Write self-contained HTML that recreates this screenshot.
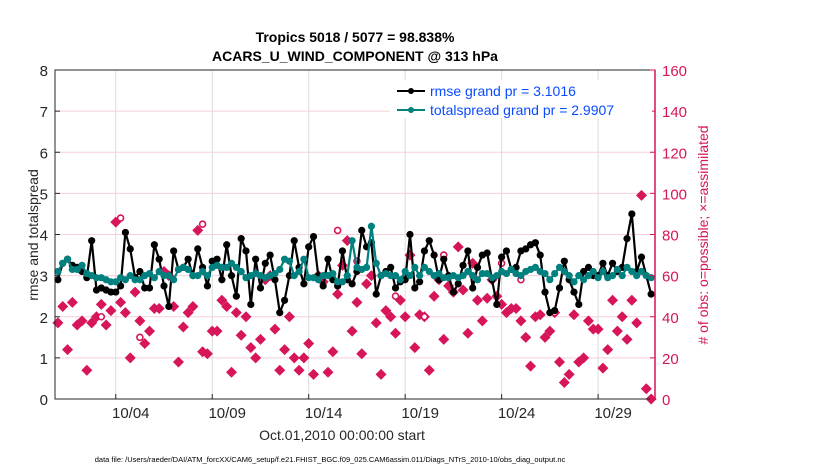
<!DOCTYPE html>
<html><head><meta charset="utf-8"><style>
body{margin:0;background:#fff;}
svg{display:block;font-family:"Liberation Sans",Arial,sans-serif;}
</style></head><body>
<svg id="chart" width="830" height="470" viewBox="0 0 830 470">
<rect width="830" height="470" fill="#fff"/>
<text x="355" y="42" text-anchor="middle" font-size="14" font-weight="bold">Tropics 5018 / 5077 = 98.838%</text>
<text x="355" y="61" text-anchor="middle" font-size="14" font-weight="bold">ACARS_U_WIND_COMPONENT @ 313 hPa</text>
<g id="grid"></g>
<g id="marks"></g>
<rect x="55" y="70" width="600" height="329" fill="none" stroke="#262626" stroke-width="1"/>
<line x1="655" y1="70" x2="655" y2="399" stroke="#d6155a" stroke-width="1.5"/>
<g id="axes"></g>
<text transform="translate(38,235) rotate(-90)" text-anchor="middle" font-size="14" fill="#262626">rmse and totalspread</text>
<text transform="translate(708,235) rotate(-90)" text-anchor="middle" font-size="14" fill="#d6155a"># of obs: o=possible; ×=assimilated</text>
<text x="342" y="440" text-anchor="middle" font-size="14" fill="#262626">Oct.01,2010 00:00:00 start</text>
<text x="330" y="462" text-anchor="middle" font-size="7.5" fill="#000">data file: /Users/raeder/DAI/ATM_forcXX/CAM6_setup/f.e21.FHIST_BGC.f09_025.CAM6assim.011/Diags_NTrS_2010-10/obs_diag_output.nc</text>
<g>
<rect x="390" y="80" width="262" height="38" fill="#fff"/>
<line x1="397" y1="91" x2="425" y2="91" stroke="#000" stroke-width="2"/>
<circle cx="411" cy="91" r="3" fill="#000"/>
<text x="430" y="96" font-size="14" fill="#0a4bff">rmse grand pr = 3.1016</text>
<line x1="397" y1="110" x2="425" y2="110" stroke="#00807f" stroke-width="2"/>
<circle cx="411" cy="110" r="3" fill="#00807f"/>
<text x="430" y="115" font-size="14" fill="#0a4bff">totalspread grand pr = 2.9907</text>
</g>
</svg>
<script>
const rmse=[2.9,3.3,3.4,3.25, 3.2,3.1,2.95,3.85, 2.65,2.7,2.65,2.6, 2.6,2.75,4.05,3.65, 2.95,3.1,2.7,2.7, 3.75,3.4,2.75,2.25, 3.6,3.15,3.2,3.4, 3.0,3.65,3.2,2.75, 3.35,3.4,2.9,3.75, 3.0,2.5,3.9,3.6, 2.3,3.4,2.7,3.3, 3.5,2.9,2.1,2.4, 3.0,3.85,3.2,2.8, 3.7,3.95,3.0,2.75, 3.4,2.9,2.75,3.6, 2.9,2.8,3.1,4.1, 3.7,3.8,2.55,3.0, 3.1,3.2,2.7,2.85, 2.9,4.0,2.7,2.85, 3.6,3.85,3.5,2.9, 3.4,3.0,2.6,2.8, 3.25,3.6,2.7,3.2, 3.5,3.55,2.9,2.3, 3.45,3.6,3.15,3.2, 3.6,3.65,3.75,3.8, 3.5,2.6,2.1,2.15, 2.7,3.35,2.9,2.6, 2.3,3.1,3.2,3.0, 3.0,3.3,3.0,3.3, 3.1,3.2,3.9,4.5, 3.1,3.45,3.0,2.55];
const spread=[3.1,3.3,3.4,3.15, 3.15,3.25,3.05,3.0, 2.95,2.95,2.9,2.85, 2.85,2.95,2.9,3.0, 2.9,2.9,3.0,3.05, 2.95,3.1,3.0,3.0, 2.9,3.15,3.2,3.15, 3.0,3.0,3.1,3.0, 3.2,3.25,3.2,3.2, 3.3,3.2,3.1,2.95, 3.0,3.05,3.0,2.95, 3.0,3.05,3.15,3.4, 3.35,3.0,3.1,3.4, 2.95,2.95,2.9,3.0, 3.0,3.05,2.85,2.85, 3.0,3.85,3.2,3.15, 3.2,4.2,3.3,3.0, 3.05,3.0,3.0,2.9, 3.1,3.0,3.2,3.0, 3.2,3.1,3.0,3.05, 2.95,2.95,3.0,2.95, 3.0,3.1,3.0,2.9, 3.05,3.05,2.95,3.0, 3.1,3.05,3.15,3.05, 3.0,3.1,3.15,3.2, 3.1,3.05,2.9,3.05, 3.2,3.1,3.0,2.85, 3.0,2.9,3.0,3.1, 2.95,3.1,2.95,3.0, 3.15,3.0,3.2,3.1, 3.0,3.1,3.0,2.95];
const nAssim=[37,45,24,47, 36,38,14,37, 40,46,36,43, 86,47,42,20, 52,38,27,33, 44,44,62,60, 45,18,35,42, 45,82,23,22, 33,33,48,45, 13,42,31,40, 25,20,29,58, 60,34,14,24, 40,20,14,20, 27,12,60,57, 13,23,51,65, 77,33,47,22, 56,60,37,12, 43,40,32,48, 40,70,25,41, 40,14,50,58, 29,55,52,74, 53,32,66,48, 38,49,58,50, 46,42,44,44, 38,30,16,40, 41,30,33,42, 18,8,12,41, 18,20,38,34, 34,15,24,48, 33,40,29,48, 37,99,5,0];
const possibleIdx=[9,13,17,30,58,62,70,76,80,92,96,103];
const possibleVals=[40,88,30,85,82,67,50,40,70,66,58,42];
const yTicks=[0,1,2,3,4,5,6,7,8];
const y2Ticks=[0,20,40,60,80,100,120,140,160];
const xTickDays=[3,8,13,18,23,28];
const xTickLabels=["10/04","10/09","10/14","10/19","10/24","10/29"];

const NS="http://www.w3.org/2000/svg";
const L=55,R=655,T=70,B=399;
const d0=-0.15,d1=30.95;
const xs=d=>L+(d-d0)/(d1-d0)*(R-L);
const ys=v=>B-v/8*(B-T);
const ys2=v=>B-v/160*(B-T);
const dayOf=i=>i*0.25;
function mk(tag,attrs,parent){const e=document.createElementNS(NS,tag);for(const k in attrs)e.setAttribute(k,attrs[k]);parent.appendChild(e);return e;}
const grid=document.getElementById('grid'),marks=document.getElementById('marks'),axes=document.getElementById('axes');

yTicks.forEach(v=>{
  if(v>0&&v<8){const g=mk('line',{x1:L,x2:R,y1:ys(v),y2:ys(v),stroke:'#f6cfdc','stroke-width':1},grid);
  
  }
  const t=mk('text',{x:L-7,y:ys(v)+6,'text-anchor':'end','font-size':15,fill:'#262626'},axes);t.textContent=v;
  
  
  mk('line',{x1:L,x2:L+5,y1:ys(v),y2:ys(v),stroke:'#262626'},axes);
});
y2Ticks.forEach(v=>{
  const t=mk('text',{x:R+7,y:ys2(v)+6,'font-size':15,fill:'#d6155a'},axes);t.textContent=v;
  
  
  mk('line',{x1:R-5,x2:R,y1:ys2(v),y2:ys2(v),stroke:'#d6155a'},axes);
});
xTickDays.forEach((d,i)=>{
  const g=mk('line',{x1:xs(d),x2:xs(d),y1:T,y2:B,stroke:'#dcdcdc','stroke-width':1},grid);
  
  
  mk('line',{x1:xs(d),x2:xs(d),y1:B-5,y2:B,stroke:'#262626'},axes);
  const t=mk('text',{x:xs(d)+15,y:B+19,'text-anchor':'middle','font-size':15,fill:'#262626'},axes);t.textContent=xTickLabels[i];
  
  
});

// obs counts
nAssim.forEach((v,i)=>{
  const x=xs(dayOf(i)),y=ys2(v);
  const p=mk('path',{d:`M${x},${y-5.5}L${x+5.5},${y}L${x},${y+5.5}L${x-5.5},${y}Z`,fill:'#d6155a'},marks);
  
  
});
possibleIdx.forEach((idx,k)=>{
  const c=mk('circle',{cx:xs(dayOf(idx)),cy:ys2(possibleVals[k]),r:3,fill:'#fff',stroke:'#d6155a','stroke-width':1.6},marks);
  
  
});

function series(arr,color,name){
  const pts=arr.map((v,i)=>xs(dayOf(i)).toFixed(1)+','+ys(v).toFixed(1)).join(' ');
  const pl=mk('polyline',{points:pts,fill:'none',stroke:color,'stroke-width':2.2,'stroke-linejoin':'round'},marks);
  
  
  arr.forEach((v,i)=>{
    const c=mk('circle',{cx:xs(dayOf(i)),cy:ys(v),r:3.6,fill:color},marks);
    
    
  });
}
series(rmse,'#000','rmse');
series(spread,'#00807f','totalspread');
</script>
</body></html>
